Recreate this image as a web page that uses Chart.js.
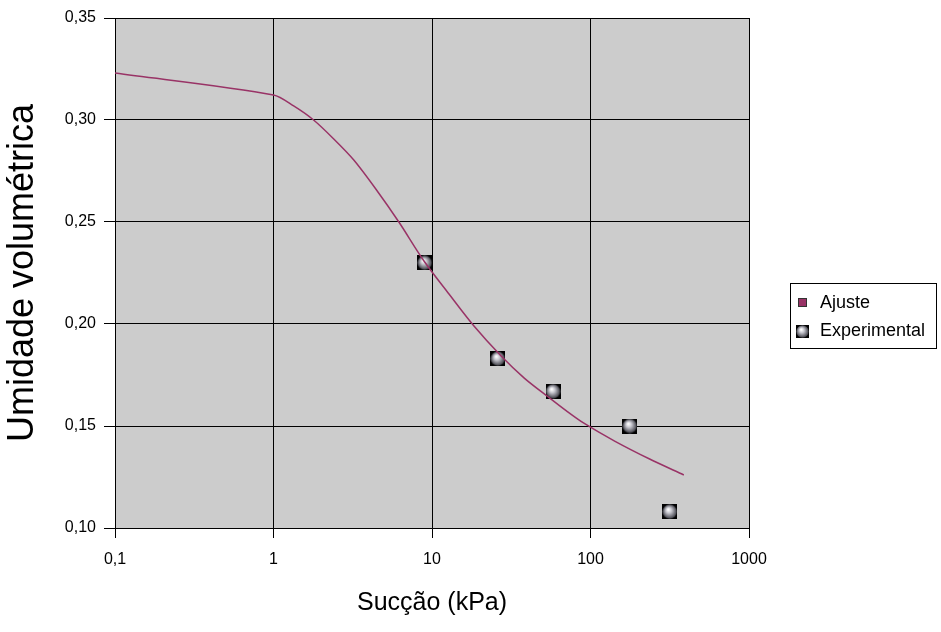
<!DOCTYPE html>
<html>
<head>
<script src="https://cdn.jsdelivr.net/npm/chart.js@4.4.1/dist/chart.umd.min.js"></script>
<title>Curva de retenção</title>
<style>
  body { margin: 0; background: #fff; }
</style>
</head>
<body>
<canvas id="myChart" width="941" height="632"></canvas>
<script>
// fitted curve (Ajuste)
const fitSuction = [0.1, 1, 1.34, 1.79, 2.4, 3.21, 4.42, 6.18, 8.9, 12.8, 18.4, 27.3, 38.2, 54.2, 70.5, 90.3, 142, 236, 388];
const fitTheta   = [0.323, 0.3123, 0.3069, 0.300, 0.2907, 0.2804, 0.2662, 0.250, 0.2309, 0.2147, 0.199, 0.1843, 0.1735, 0.1642, 0.1574, 0.1515, 0.1426, 0.1338, 0.126];
// measured points (Experimental)
const expSuction = [9, 26, 58, 177, 316];
const expTheta   = [0.230, 0.183, 0.167, 0.150, 0.108];
const xTicks = [0.1, 1, 10, 100, 1000];
const seriesNames = ['Ajuste', 'Experimental'];

const comma = v => String(v).replace('.', ',');
const FONT = '"Liberation Sans", Arial, sans-serif';

// little shaded ball on a black square, like the old Excel marker
function makeBall(size) {
  const c = document.createElement('canvas');
  c.width = size; c.height = size;
  const g = c.getContext('2d');
  g.fillStyle = '#000';
  g.fillRect(0, 0, size, size);
  const r = size / 2;
  const grad = g.createRadialGradient(r * 0.8, r * 0.7, 0.5, r, r, r);
  grad.addColorStop(0, '#ffffff');
  grad.addColorStop(0.35, '#c4c4cc');
  grad.addColorStop(0.8, '#606068');
  grad.addColorStop(1, '#303036');
  g.fillStyle = grad;
  g.beginPath(); g.arc(r, r, r - 0.3, 0, Math.PI * 2); g.fill();
  return c;
}
const ball = makeBall(15);
const legendBall = makeBall(13);

// legend box drawn by hand (white box with black frame on the right)
const boxLegend = {
  id: 'boxLegend',
  afterDraw(chart) {
    const ctx = chart.ctx;
    ctx.save();
    ctx.fillStyle = '#fff';
    ctx.strokeStyle = '#000';
    ctx.lineWidth = 1;
    ctx.fillRect(790.5, 283.5, 146, 65);
    ctx.strokeRect(790.5, 283.5, 146, 65);
    ctx.font = '18px ' + FONT;
    ctx.textBaseline = 'middle';
    // Ajuste
    ctx.fillStyle = '#993366';
    ctx.fillRect(798, 298, 9, 9);
    ctx.strokeStyle = '#333';
    ctx.strokeRect(798.5, 298.5, 8, 8);
    ctx.fillStyle = '#000';
    ctx.fillText(seriesNames[0], 820, 303);
    // Experimental
    ctx.drawImage(legendBall, 796, 325);
    ctx.fillText(seriesNames[1], 820, 331);
    ctx.restore();
  }
};

// grey plot area
const plotBg = {
  id: 'plotBg',
  beforeDraw(chart) {
    const a = chart.chartArea;
    chart.ctx.save();
    chart.ctx.fillStyle = '#cccccc';
    chart.ctx.fillRect(a.left, a.top, a.right - a.left, a.bottom - a.top);
    chart.ctx.restore();
  }
};

const ctx = document.getElementById('myChart').getContext('2d');
const myChart = new Chart(ctx, {
  type: 'scatter',
  data: {
    datasets: [
      { label: seriesNames[0],
        data: fitSuction.map((x, i) => ({ x: x, y: fitTheta[i] })),
        showLine: true,
        borderColor: '#993366',
        backgroundColor: '#993366',
        borderWidth: 1.5,
        pointRadius: 0,
        tension: 0.3 },
      { label: seriesNames[1],
        data: expSuction.map((x, i) => ({ x: x, y: expTheta[i] })),
        showLine: false,
        pointStyle: ball,
        pointRadius: 7 }
    ]
  },
  options: {
    responsive: false,
    animation: false,
    layout: { padding: { top: 18, right: 192, left: 0, bottom: 0 } },
    scales: {
      x: {
        type: 'logarithmic',
        min: 0.1, max: 1000,
        afterBuildTicks: s => { s.ticks = xTicks.map(v => ({ value: v })); },
        afterFit: s => { s.height = 104; },
        ticks: {
          color: '#000', padding: 12, maxRotation: 0, autoSkip: false,
          font: { family: FONT, size: 16 },
          callback: v => comma(v)
        },
        grid: { color: '#000', lineWidth: 1, tickLength: 10 },
        border: { color: '#000' },
        title: { display: true, text: 'Sucção (kPa)', color: '#000',
                 font: { family: FONT, size: 25 }, padding: { top: 0, bottom: 14 } }
      },
      y: {
        min: 0.10, max: 0.35,
        afterFit: s => { s.width = 115; },
        ticks: {
          stepSize: 0.05, color: '#000', padding: 8,
          font: { family: FONT, size: 16 },
          callback: v => v.toFixed(2).replace('.', ',')
        },
        grid: { color: '#000', lineWidth: 1, tickLength: 11 },
        border: { color: '#000' },
        title: { display: true, text: 'Umidade volumétrica', color: '#000',
                 font: { family: FONT, size: 36 }, padding: { top: 1 } }
      }
    },
    plugins: {
      legend: { display: false },
      tooltip: { enabled: false }
    }
  },
  plugins: [plotBg, boxLegend]
});
</script>
</body>
</html>
